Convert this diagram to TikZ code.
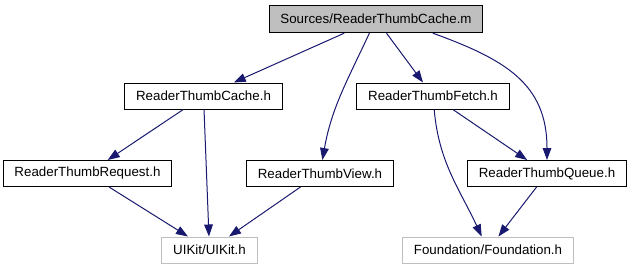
\documentclass[tikz,border=0pt]{standalone}
\usepackage{fontspec}
\setmainfont{Liberation Sans}
\usetikzlibrary{arrows.meta}
\definecolor{edgeblue}{RGB}{25,25,112}
\definecolor{boxgray}{RGB}{191,191,191}

\begin{document}
\begin{tikzpicture}[x=0.75pt,y=0.75pt,
		file/.style={draw=black,line width=0.75pt,inner xsep=8.4pt,inner ysep=0pt,minimum height=19.5pt,font=\fontsize{10}{12}\selectfont},
		sysfile/.style={file,draw=boxgray},
		dep/.style={draw=edgeblue,line width=0.75pt,-{Triangle[length=9pt,width=6.5pt]}}]
		\useasboundingbox (0,0) rectangle (631,272);
		%
		\def\rowa{253}
		\def\rowb{176}
		\def\rowc{98.5}
		\def\rowd{22}
		%
		\node[file,fill=boxgray,minimum height=20.5pt] (src) at (376,\rowa) {Sources/ReaderThumbCache.m};
		%
		\node[file] (cache) at (203.5,\rowb) {ReaderThumbCache.h};
		\node[file] (fetch) at (433,\rowb) {ReaderThumbFetch.h};
		%
		\node[file] (request) at (87.5,\rowc) {ReaderThumbRequest.h};
		\node[file] (view) at (320,\rowc) {ReaderThumbView.h};
		\node[file] (queue) at (547,\rowc) {ReaderThumbQueue.h};
		%
		\node[sysfile] (uikit) at (209.5,\rowd) {UIKit/UIKit.h};
		\node[sysfile] (found) at (488,\rowd) {Foundation/Foundation.h};
		%
		\draw[dep] (src) -- (cache);
		\draw[dep] (src) to[out=-115,in=80] (view);
		\draw[dep] (src) -- (fetch);
		\draw[dep] (src.-14) to[out=-20,in=90,looseness=1.15] (queue);
		%
		\draw[dep] (cache) -- (request);
		\draw[dep] (cache) -- (uikit);
		\draw[dep] (fetch) to[out=-85,in=115] (found);
		\draw[dep] (fetch) -- (queue);
		%
		\draw[dep] (request) -- (uikit);
		\draw[dep] (view) -- (uikit);
		\draw[dep] (queue) -- (found);
	\end{tikzpicture}
\end{document}
